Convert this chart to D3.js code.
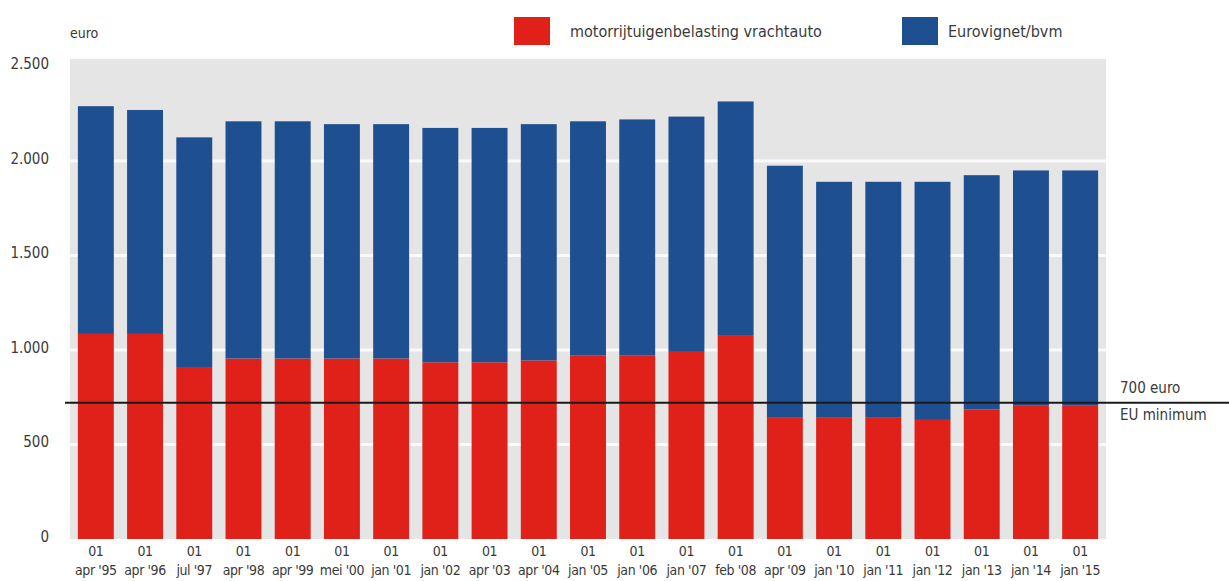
<!DOCTYPE html>
<html>
<head>
<meta charset="utf-8">
<script src="https://cdn.jsdelivr.net/npm/d3@7"></script>
<style>
  body { margin: 0; background: #fff; }
  svg text { font-family: "Liberation Sans Narrow", "DejaVu Sans Condensed", sans-serif; fill: #3a3a3a; }
</style>
</head>
<body>
<svg id="chart"></svg>
<script>
// data
const dates = ["apr '95", "apr '96", "jul '97", "apr '98", "apr '99", "mei '00", "jan '01",
  "jan '02", "apr '03", "apr '04", "jan '05", "jan '06", "jan '07", "feb '08", "apr '09",
  "jan '10", "jan '11", "jan '12", "jan '13", "jan '14", "jan '15"];
const mrbTotaal = [1085, 1085, 910, 955, 955, 955, 955, 935, 935, 945, 970, 970, 990, 1075,
  645, 645, 645, 630, 685, 705, 705];
const totaal = [2290, 2270, 2125, 2210, 2210, 2195, 2195, 2175, 2175, 2195, 2210, 2220, 2235,
  2315, 1975, 1890, 1890, 1890, 1925, 1950, 1950];
const yTicks = [0, 500, 1000, 1500, 2000, 2500];
const euMinimum = 700;

const series = [
  { key: "mrb", label: "motorrijtuigenbelasting vrachtauto", color: "#df211a" },
  { key: "bvm", label: "Eurovignet/bvm", color: "#1e4f90" }
];

const rows = dates.map((d, i) => ({ date: d, mrb: mrbTotaal[i], bvm: totaal[i] - mrbTotaal[i] }));

const W = 1229, H = 581;
const plot = { left: 70, right: 1106, top: 59, bottom: 539 };

const svg = d3.select("#chart").attr("width", W).attr("height", H);

const x = d3.scaleBand().domain(dates).range([plot.left, plot.right])
  .paddingInner(0.27).paddingOuter(0.16);
const y = d3.scaleLinear().domain([0, 2000]).range([plot.bottom, 161]);

// grijze achtergrond
svg.append("rect")
  .attr("x", plot.left).attr("y", plot.top)
  .attr("width", plot.right - plot.left).attr("height", plot.bottom - plot.top)
  .attr("fill", "#e5e5e5");

// witte rasterlijnen
svg.append("g").selectAll("line")
  .data(yTicks.filter(t => t > 0 && t < 2500))
  .join("line")
  .attr("x1", plot.left).attr("x2", plot.right)
  .attr("y1", d => y(d)).attr("y2", d => y(d))
  .attr("stroke", "#fafafa").attr("stroke-width", 3);

// y-as labels
const yAxis = svg.append("g")
  .attr("transform", `translate(${plot.left - 21},0)`)
  .call(d3.axisLeft(y).tickValues(yTicks).tickSize(0).tickPadding(0)
    .tickFormat(d => d3.format(",")(d).replace(",", ".")));
yAxis.select(".domain").remove();
yAxis.selectAll("text").attr("font-size", 15).attr("dy", "0.15em");

svg.append("text").attr("x", plot.left).attr("y", 38)
  .attr("font-size", 14).text("euro");

// gestapelde staven
const stacked = d3.stack().keys(series.map(s => s.key))(rows);
svg.append("g").selectAll("g")
  .data(stacked)
  .join("g")
  .attr("fill", (d, i) => series[i].color)
  .selectAll("rect")
  .data(d => d)
  .join("rect")
  .attr("x", d => x(d.data.date))
  .attr("width", x.bandwidth())
  .attr("y", d => y(d[1]))
  .attr("height", d => y(d[0]) - y(d[1]));

// x-as labels
const xLab = svg.append("g").selectAll("text")
  .data(dates)
  .join("text")
  .attr("text-anchor", "middle")
  .attr("font-size", 14)
  .attr("letter-spacing", "-0.4")
  .attr("x", d => x(d) + x.bandwidth() / 2);
xLab.append("tspan").attr("x", d => x(d) + x.bandwidth() / 2).attr("y", 556).text("01");
xLab.append("tspan").attr("x", d => x(d) + x.bandwidth() / 2).attr("y", 575).text(d => d);

// EU minimum lijn
svg.append("line")
  .attr("x1", plot.left - 5).attr("x2", W)
  .attr("y1", y(euMinimum) - 4).attr("y2", y(euMinimum) - 4)
  .attr("stroke", "#1a1a1a").attr("stroke-width", 2);
svg.append("text").attr("x", 1120).attr("y", 393).attr("font-size", 15).text("700 euro");
svg.append("text").attr("x", 1120).attr("y", 420).attr("font-size", 15).text("EU minimum");

// legenda
const legX = [514, 902];
const legTextX = [56, 46];
const leg = svg.append("g").selectAll("g")
  .data(series)
  .join("g")
  .attr("transform", (d, i) => `translate(${legX[i]},17)`);
leg.append("rect").attr("width", 36).attr("height", 28).attr("fill", d => d.color);
leg.append("text").attr("x", (d, i) => legTextX[i]).attr("y", 20).attr("font-size", 16).text(d => d.label);
</script>
</body>
</html>
